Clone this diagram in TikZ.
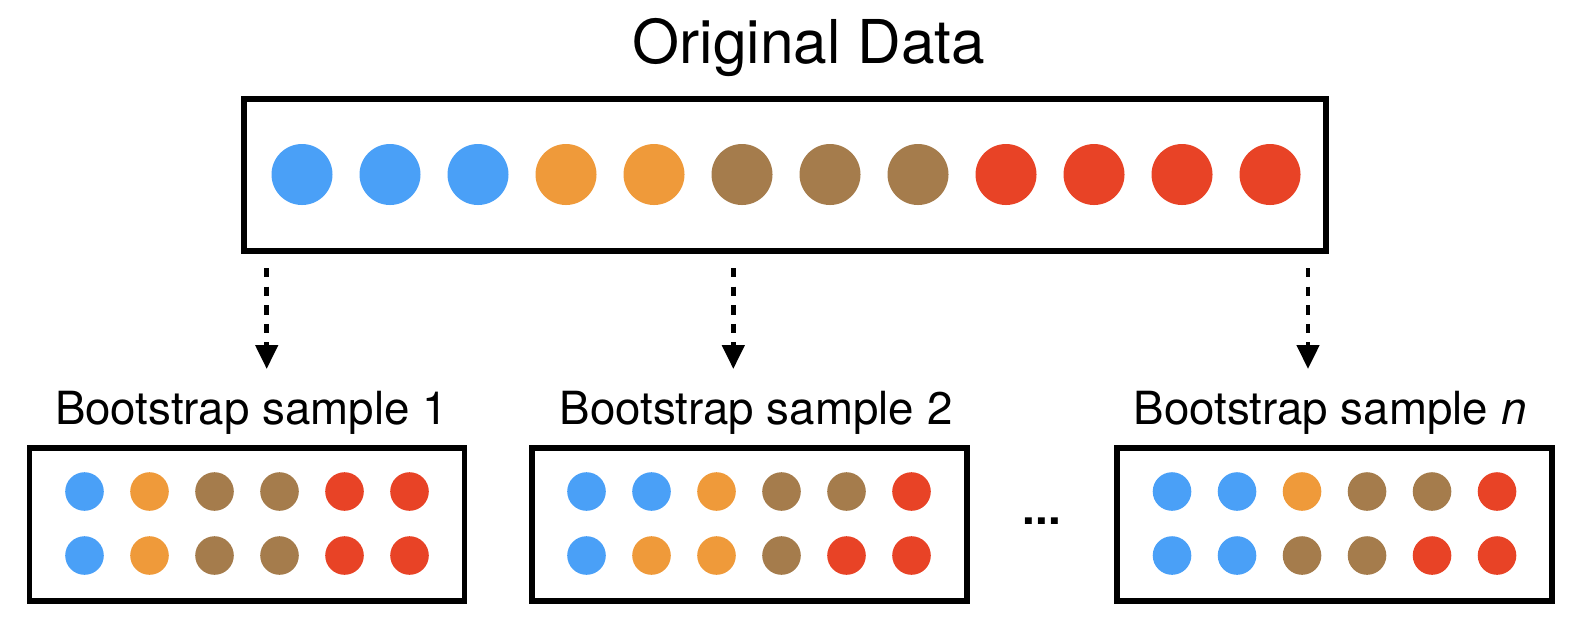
\documentclass[tikz,border=0pt]{standalone}
\usepackage{fontspec}
\setmainfont{TeX Gyre Heros}
\usetikzlibrary{arrows.meta}
\definecolor{dblue}{RGB}{74,160,247}
\definecolor{dorange}{RGB}{239,154,58}
\definecolor{dbrown}{RGB}{165,124,76}
\definecolor{dred}{RGB}{232,67,38}

\begin{document}
\begin{tikzpicture}[x=0.1mm, y=-0.1mm,
    frame/.style={draw, rectangle, line width=1.7pt, inner sep=0pt},
    bigdot/.style={circle, inner sep=0pt, minimum size=6.1mm},
    smalldot/.style={circle, inner sep=0pt, minimum size=3.86mm},
    lbl/.style={anchor=base, inner sep=0pt, font=\fontsize{13}{15}\selectfont},
    pick/.style={-{Triangle[length=2.4mm, width=2.2mm]}, line width=1.3pt, dash pattern=on 0.93mm off 0.93mm}
]
\useasboundingbox (0,0) rectangle (1570,622);

% donnees d'origine
\node[anchor=base, inner sep=0pt, font=\fontsize{17.2}{20}\selectfont] (title) at (809,63) {Original Data};
\node[frame, minimum width=108.2mm, minimum height=15.25mm] (data) at (785,174.75) {};
\foreach \col [count=\i from 0] in {dblue,dblue,dblue,dorange,dorange,dbrown,dbrown,dbrown,dred,dred,dred,dred}
    \node[bigdot, fill=\col] (o\i) at (302+88*\i, 174.5) {};

% tirages
\foreach \b/\x in {1/266.7, 2/733.3, n/1308} {
    \coordinate (from\b) at (\x,268);
    \coordinate (to\b) at (\x,369);
    \draw[pick] (from\b) -- (to\b);
}

% echantillons bootstrap
\node[lbl] (lab1) at (251.5,424) {Bootstrap sample 1};
\node[lbl] (lab2) at (756,424) {Bootstrap sample 2};
\node[lbl] (labn) at (1330,424) {Bootstrap sample \textit{n}};
\foreach \b/\cx/\rowa/\rowb in {
    1/247/{dblue,dorange,dbrown,dbrown,dred,dred}/{dblue,dorange,dbrown,dbrown,dred,dred},
    2/749/{dblue,dblue,dorange,dbrown,dbrown,dred}/{dblue,dorange,dorange,dbrown,dred,dred},
    n/1334.5/{dblue,dblue,dorange,dbrown,dbrown,dred}/{dblue,dblue,dbrown,dbrown,dred,dred}} {
    \node[frame, minimum width=43.5mm, minimum height=15.3mm] (box\b) at (\cx,524.5) {};
    \foreach \col [count=\j from 0] in \rowa
        \node[smalldot, fill=\col] (a\b\j) at (\cx-162.5+65*\j, 491.5) {};
    \foreach \col [count=\j from 0] in \rowb
        \node[smalldot, fill=\col] (c\b\j) at (\cx-162.5+65*\j, 555.5) {};
}
\node[inner sep=0pt, font=\fontsize{13}{15}\selectfont\bfseries] (dots) at (1042,521) {...};
\end{tikzpicture}
\end{document}
